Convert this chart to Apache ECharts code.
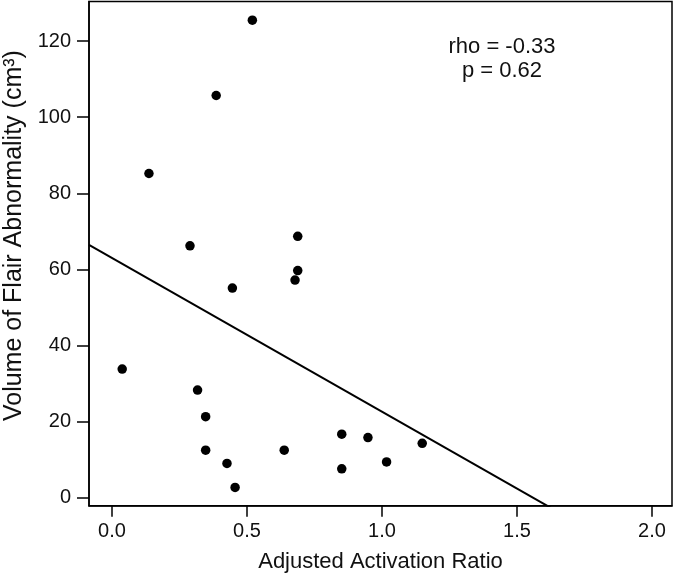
<!DOCTYPE html>
<html>
<head>
<meta charset="utf-8">
<script src="https://cdn.jsdelivr.net/npm/echarts@6/dist/echarts.min.js"></script>
<style>html,body{margin:0;padding:0;background:#fff}#c{width:675px;height:575px}</style>
</head>
<body>
<div id="c"></div>
<script>
const xValues = [0.520, 0.386, 0.137, 0.289, 0.688, 0.688, 0.678, 0.446, 0.038, 0.317, 0.347, 0.347, 0.426, 0.456, 0.638, 0.851, 0.851, 0.948, 1.017, 1.149];
const yValues = [125.5, 105.7, 85.2, 66.2, 68.7, 59.7, 57.2, 55.1, 33.8, 28.3, 21.3, 12.5, 9.0, 2.7, 12.5, 16.7, 7.6, 15.8, 9.4, 14.3];
const xTicks = [0, 0.5, 1.0, 1.5, 2.0];
const yTicks = [0, 20, 40, 60, 80, 100, 120];
const fitIntercept = 63.0;
const fitSlope = -40.4;
const annotationLines = ['rho = -0.33', 'p = 0.62'];
const xTitle = 'Adjusted Activation Ratio';
const yTitle = 'Volume of Flair Abnormality (cm³)';

const xMin = -0.085, xMax = 2.074, yMin = -2.1, yMax = 130.4;
const FONT = "'Liberation Sans', Arial, Helvetica, sans-serif";

const points = xValues.map((x, i) => [x, yValues[i]]);
const fitLine = [xMin, xMax].map(x => [x, fitIntercept + fitSlope * x]);

const chart = echarts.init(document.getElementById('c'));
chart.setOption({
  animation: false,
  backgroundColor: '#fff',
  grid: {left: 89, right: 3, top: 1.5, bottom: 69.3, show: true, borderColor: '#000', borderWidth: 1.5, containLabel: false, outerBoundsMode: 'none'},
  xAxis: {
    type: 'value', min: xMin, max: xMax,
    name: xTitle, nameLocation: 'middle', nameGap: 45,
    nameTextStyle: {fontFamily: FONT, fontSize: 22, color: '#111'},
    axisLine: {show: true, onZero: false, lineStyle: {color: '#000', width: 1.5}},
    axisTick: {show: true, inside: false, length: 11, lineStyle: {color: '#000', width: 1.5}, customValues: xTicks},
    axisLabel: {customValues: xTicks, formatter: v => v.toFixed(1), fontFamily: FONT, fontSize: 20, color: '#111', margin: 16},
    splitLine: {show: false}
  },
  yAxis: {
    type: 'value', min: yMin, max: yMax,
    name: yTitle, nameLocation: 'middle', nameGap: 60,
    nameTextStyle: {fontFamily: FONT, fontSize: 25, color: '#111', padding: [0, 0, 0, 36]},
    axisLine: {show: true, onZero: false, lineStyle: {color: '#000', width: 1.5}},
    axisTick: {show: true, inside: false, length: 12, lineStyle: {color: '#000', width: 1.5}, customValues: yTicks},
    axisLabel: {customValues: yTicks, fontFamily: FONT, fontSize: 20, color: '#111', margin: 18},
    splitLine: {show: false}
  },
  graphic: [{
    type: 'text', x: 502, y: 35,
    style: {text: annotationLines.join('\n'), fontFamily: FONT, fontSize: 22, fill: '#111', align: 'center', lineHeight: 24}
  }],
  series: [
    {type: 'line', data: fitLine, showSymbol: false, symbol: 'none', clip: true, lineStyle: {color: '#000', width: 2}, silent: true},
    {type: 'scatter', data: points, symbol: 'circle', symbolSize: 9.5, itemStyle: {color: '#000', opacity: 1}}
  ]
});
</script>
</body>
</html>
